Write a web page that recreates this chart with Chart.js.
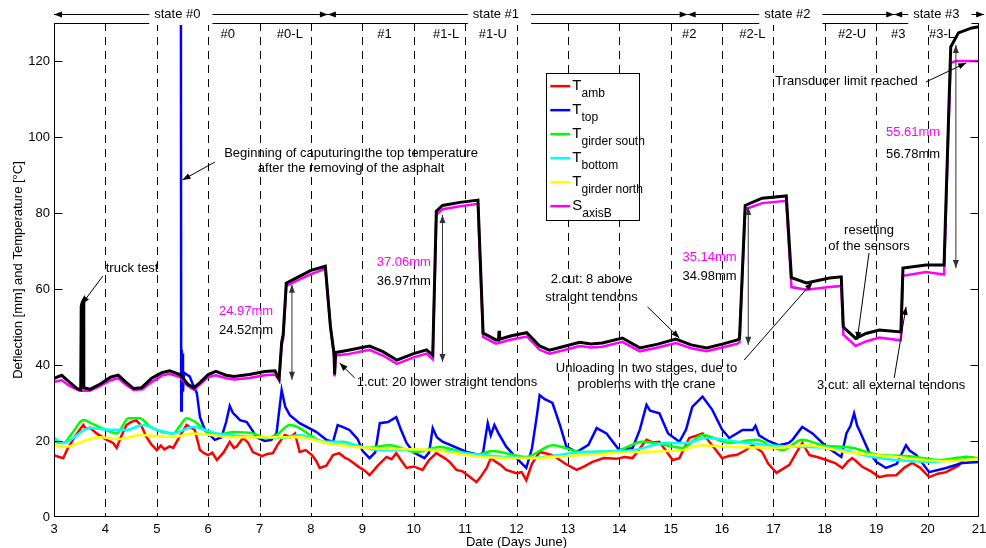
<!DOCTYPE html>
<html>
<head>
<meta charset="utf-8">
<script src="https://cdn.jsdelivr.net/npm/chart.js@4.4.0/dist/chart.umd.min.js"></script>
<style>
  html, body { margin: 0; padding: 0; background: #fff; }
  canvas { display: block; }
</style>
</head>
<body>
<canvas id="chart" width="986" height="548"></canvas>
<script>
// ---- data: [day, value] ----
const deflBlack = [[3.0,36.5],[3.15,37.3],[3.3,35.5],[3.45,33.8],[3.52,33.5],[3.53,55.5],[3.55,56.5],[3.57,57],[3.58,34],[3.7,33.6],[3.9,35],[4.1,36.8],[4.25,37.3],[4.4,35.5],[4.55,33.8],[4.7,34],[4.9,36.5],[5.1,38],[5.25,38.5],[5.45,37.5],[5.6,35],[5.72,34],[5.85,35.5],[6.0,37.5],[6.15,38.3],[6.35,37.3],[6.5,37],[6.8,37.5],[7.1,38.3],[7.3,38.5],[7.38,36.3],[7.43,46],[7.46,48],[7.52,61.5],[7.7,62.8],[8.0,64.9],[8.28,66],[8.38,50],[8.45,43],[8.46,37.5],[8.48,43.3],[8.7,43.8],[9.14,45],[9.4,43.5],[9.67,41.3],[10.0,43],[10.25,44],[10.37,42.6],[10.44,80.5],[10.56,82],[10.9,82.8],[11.25,83.4],[11.35,48.4],[11.6,46.6],[11.65,46.6],[11.66,49],[11.67,46.8],[11.9,47.7],[12.2,48.5],[12.45,45],[12.64,43.9],[12.9,44.8],[13.23,46],[13.45,45.5],[13.67,45.8],[14.06,47.1],[14.4,44.5],[14.75,45.5],[15.1,46.8],[15.4,45.3],[15.7,44.5],[16.0,45.5],[16.3,46.6],[16.34,47],[16.45,82],[16.78,83.9],[17.25,84.5],[17.35,63],[17.64,61.6],[18.09,62.9],[18.32,63.2],[18.36,50],[18.6,47],[18.8,48.3],[19.06,49.2],[19.48,48.7],[19.52,65.5],[19.97,66.3],[20.32,66.3],[20.45,123.7],[20.6,127.4],[20.86,128.7],[21.0,129]];

const sAxisB = [[3.0,35.5],[3.15,36],[3.3,34.5],[3.5,33.2],[3.7,33.2],[3.9,34.5],[4.1,36],[4.25,36.5],[4.4,34.8],[4.55,33.4],[4.72,33.6],[4.9,35.5],[5.1,37.2],[5.25,37.7],[5.45,36.8],[5.6,34.5],[5.72,33.5],[5.85,35],[6.0,36.8],[6.15,37.3],[6.35,36.5],[6.5,36.2],[6.8,36.6],[7.1,37.3],[7.3,37.5],[7.38,36],[7.43,45],[7.46,47],[7.52,60.8],[7.7,62],[8.0,63.9],[8.28,65.3],[8.38,50],[8.45,42],[8.46,37],[8.48,42.5],[8.7,42.8],[9.14,44],[9.4,42.5],[9.67,40.3],[10.0,42],[10.25,43],[10.37,41.5],[10.44,79.5],[10.56,81],[10.9,81.8],[11.25,82.4],[11.35,47.4],[11.6,45.6],[11.9,46.7],[12.2,47.5],[12.45,44],[12.64,43],[12.9,43.8],[13.23,45],[13.45,44.6],[13.67,44.8],[14.06,46.1],[14.4,43.6],[14.75,44.6],[15.1,45.8],[15.4,44.4],[15.7,43.6],[16.0,44.6],[16.3,45.6],[16.34,46],[16.45,81],[16.78,82.6],[17.25,83.2],[17.35,60.5],[17.64,59.8],[18.09,60.5],[18.32,60.8],[18.36,48],[18.6,45],[18.8,46.2],[19.06,47.2],[19.48,46.5],[19.52,63.5],[19.97,64.5],[20.32,63.8],[20.4,100],[20.45,119.5],[20.55,120],[21.0,120]];

const tAmb = [[3.0,16.3],[3.1,15.8],[3.18,15.5],[3.28,18.4],[3.45,22],[3.57,24.2],[3.62,23.2],[3.7,23.5],[3.83,22],[4.0,20.5],[4.15,19.5],[4.22,18.2],[4.3,21],[4.41,24.2],[4.5,25],[4.6,25.5],[4.7,24],[4.8,21],[4.9,19],[5.0,17.6],[5.08,18.8],[5.15,17.8],[5.25,18.6],[5.32,18.2],[5.48,22],[5.58,24.2],[5.74,22.9],[5.84,17.6],[5.92,16.8],[6.0,16.3],[6.08,16.9],[6.17,15],[6.3,17],[6.42,19.8],[6.5,18.2],[6.55,18.5],[6.68,20.8],[6.78,19.5],[6.87,17.1],[7.05,16],[7.15,16.6],[7.26,16.8],[7.35,19],[7.49,21.6],[7.6,21],[7.69,22],[7.78,17.1],[7.9,17.6],[8.02,16.3],[8.1,14.8],[8.17,12.9],[8.3,13.5],[8.43,16.3],[8.55,16.8],[8.65,15.7],[8.75,15],[8.95,13],[9.05,12.2],[9.14,11],[9.3,13.5],[9.47,15.8],[9.57,15.2],[9.66,16.8],[9.75,15],[9.86,12.9],[10.0,13.3],[10.17,12.4],[10.3,15],[10.44,16.8],[10.6,15.5],[10.7,14.5],[10.83,12.4],[10.95,12],[11.05,11],[11.22,9.2],[11.3,10.5],[11.42,12.9],[11.5,15.5],[11.6,14.5],[11.7,13.6],[11.8,12.4],[12.0,11.5],[12.1,11.8],[12.19,9.7],[12.3,14],[12.45,17.1],[12.58,16.7],[12.7,16.3],[12.95,14],[13.17,12.4],[13.3,13.2],[13.48,14.5],[13.7,15.5],[13.94,15.3],[14.1,15.8],[14.26,15.5],[14.4,18],[14.53,20.3],[14.65,19.6],[14.78,19.8],[15.04,15],[15.17,15.5],[15.36,20.8],[15.5,21.4],[15.62,22],[15.8,19],[16.0,15.5],[16.15,16.1],[16.28,16.3],[16.45,17.5],[16.59,18.9],[16.78,17.1],[16.9,14],[17.06,11.6],[17.2,12.8],[17.31,13.7],[17.45,17],[17.56,19.5],[17.7,16.3],[17.85,15.8],[18.03,15],[18.2,14.2],[18.34,12.9],[18.45,14.6],[18.53,15.5],[18.6,14.8],[18.73,13.2],[18.9,12],[19.06,10.5],[19.2,10.9],[19.39,11],[19.55,13],[19.7,14.2],[19.85,13],[20.03,10.5],[20.2,11.4],[20.36,11.8],[20.6,13.5],[20.75,15.8],[21.0,15.3]];

const tTop = [[5.47,131],[5.475,28],[5.485,44],[5.49,31],[5.5,43],[5.51,33],[5.53,38],[5.58,37.5],[5.64,37],[5.7,35],[5.78,32.6],[5.84,26.3],[5.92,23.5],[5.97,22.4],[6.13,20.3],[6.26,21],[6.35,25],[6.42,29.2],[6.48,27.4],[6.55,26.5],[6.62,25.5],[6.75,25],[6.85,23],[6.94,21],[7.1,20],[7.23,20.3],[7.33,22],[7.43,33.4],[7.5,29],[7.59,26.8],[7.78,24.7],[8.1,22.4],[8.3,20.3],[8.43,19.8],[8.52,24.2],[8.6,23.8],[8.75,22.9],[8.91,20.5],[9.0,17.5],[9.14,15.5],[9.25,17],[9.34,24.7],[9.5,25],[9.66,26.3],[9.75,23],[9.86,19.5],[10.0,17],[10.21,15.5],[10.3,17],[10.37,23.4],[10.45,21],[10.56,19.8],[11.03,17.1],[11.28,16.3],[11.35,17],[11.44,24.7],[11.5,21.5],[11.57,24.2],[11.65,22],[11.8,18.5],[12.0,15.5],[12.19,12.9],[12.3,18],[12.4,27],[12.45,32.1],[12.55,31],[12.7,30],[12.85,24],[12.97,18.5],[13.17,17.1],[13.4,19],[13.56,23.4],[13.75,22],[14.0,17.6],[14.26,18.2],[14.4,23],[14.53,29.5],[14.6,28],[14.78,27.3],[14.95,22],[15.17,19.8],[15.3,23],[15.42,29],[15.62,31.7],[15.81,28.2],[16.0,23],[16.14,20.8],[16.4,22.9],[16.6,22.9],[16.65,24],[16.72,21.5],[16.9,20],[17.1,18.9],[17.3,19.5],[17.37,20.3],[17.56,23.7],[17.76,22],[18.03,18.5],[18.32,15.8],[18.42,22],[18.5,24],[18.57,27.3],[18.63,24],[18.67,22.9],[18.86,17.1],[19.0,14.5],[19.19,12.9],[19.4,14],[19.58,18.9],[19.65,17.5],[19.78,16.3],[20.03,11.8],[20.36,12.9],[20.67,14.2],[21.0,14.5]];

const tGirderSouth = [[3.0,19.8],[3.18,19.5],[3.35,22],[3.57,25.5],[3.75,24.5],[4.0,23],[4.22,22],[4.45,26],[4.67,26],[4.85,24],[5.0,22.9],[5.32,22],[5.45,24],[5.58,26],[5.78,24.7],[5.97,22.4],[6.17,21.6],[6.48,22.4],[6.87,22],[7.13,20.8],[7.33,21.6],[7.59,24.2],[7.78,23.4],[8.04,21],[8.3,19.5],[8.6,19.8],[9.08,18.2],[9.53,18.9],[10.05,17.1],[10.5,18.4],[11.22,16.3],[11.53,17.4],[12.19,15.8],[12.7,18.9],[13.28,17.1],[13.94,17.4],[14.45,19.8],[14.91,18.9],[15.23,18.2],[15.62,21.6],[16.14,19.5],[16.66,20.3],[17.17,17.6],[17.56,20.3],[17.95,18.9],[18.53,18.2],[19.06,16.3],[19.64,16],[20.22,15],[20.75,15.8],[21.0,15.5]];

const tBottom = [[3.0,20.8],[3.18,19.5],[3.7,23.4],[4.0,23],[4.41,22.9],[4.73,24.2],[5.0,23],[5.32,22],[5.7,23.7],[6.17,22],[7.0,21],[7.45,20.8],[7.78,21.6],[8.3,19.8],[8.43,19.8],[9.4,17.6],[10.37,17.6],[11.34,16.3],[12.25,15.5],[13.28,17.1],[14.26,17.6],[14.91,19.5],[15.3,19.5],[15.7,20.8],[16.47,19.5],[17.44,18.5],[18.09,18.2],[19.06,15.5],[20.03,14.5],[21.0,15.3]];

const tGirderNorth = [[3.0,18.9],[3.18,18.4],[3.89,21],[4.28,20.5],[4.67,21.6],[5.32,21],[5.7,22],[6.48,21],[7.45,21],[7.78,21],[8.3,19.5],[9.08,18.2],[10.37,17.6],[11.34,15.8],[12.31,15.5],[13.28,16.3],[14.26,17.1],[15.23,17.6],[15.56,18.9],[16.14,18.5],[17.1,18.2],[17.64,18.9],[18.42,17.1],[19.39,15.8],[20.36,14.7],[21.0,15.3]];

// state bands along the top and phase labels
const stateNames = ['state #0', 'state #1', 'state #2', 'state #3'];
const stateStarts = [3, 8.33, 15.33, 19.35];
const stateEnds = [8.33, 15.33, 19.35, 21.1];
const stateLabelAt = [5.4, 11.6, 17.27, 20.17];
const phaseNames = ['#0', '#0-L', '#1', '#1-L', '#1-U', '#2', '#2-L', '#2-U', '#3', '#3-L'];
const phaseAt = [6.38, 7.59, 9.43, 10.63, 11.54, 15.36, 16.59, 18.53, 19.43, 20.28];

const MAGENTA = '#ff00ff';
const FONT = "'Liberation Sans', Arial, Helvetica, sans-serif";

// text notes, arrows and measured spans in data coordinates
const notes = [
    ['truck test', 4.52, 65.5, 'center', '#000'],
    ['Beginning of caputuring the top temperature', 8.78, 95.8, 'center', '#000'],
    ['after the removing of the asphalt', 8.78, 91.6, 'center', '#000'],
    ['24.97mm', 6.21, 54.2, 'left', MAGENTA],
    ['24.52mm', 6.21, 49.2, 'left', '#000'],
    ['37.06mm', 9.28, 67.1, 'left', MAGENTA],
    ['36.97mm', 9.28, 62.1, 'left', '#000'],
    ['1.cut: 20 lower straight tendons', 8.89, 35.3, 'left', '#000'],
    ['2.cut: 8 above', 13.46, 62.4, 'center', '#000'],
    ['straight tendons', 13.46, 57.9, 'center', '#000'],
    ['35.14mm', 15.23, 68.4, 'left', MAGENTA],
    ['34.98mm', 15.23, 63.2, 'left', '#000'],
    ['Unloading in two stages, due to', 14.53, 39.2, 'center', '#000'],
    ['problems with the crane', 14.53, 35.0, 'center', '#000'],
    ['resetting', 18.86, 75.3, 'center', '#000'],
    ['of the sensors', 18.86, 71.1, 'center', '#000'],
    ['3.cut: all external tendons', 19.29, 34.7, 'center', '#000'],
    ['55.61mm', 19.19, 101.3, 'left', MAGENTA],
    ['56.78mm', 19.19, 95.3, 'left', '#000'],
    ['Transducer limit reached', 18.42, 114.7, 'center', '#000']
];
const pointers = [
    [3.95, 63.4, 3.54, 56],
    [6.13, 93.4, 5.5, 88.7],
    [8.85, 36.6, 8.56, 40.5],
    [14.55, 55.3, 15.17, 47.1],
    [16.43, 41.3, 17.76, 61.8],
    [18.86, 69.5, 18.63, 46.6],
    [19.35, 36.6, 19.58, 55.3],
    [19.97, 114.5, 20.75, 119.5]
];
const spans = [[7.63, 61.1, 36.1], [10.56, 79.5, 40.8], [16.51, 81.6, 45.3], [20.55, 124.2, 65.5]];

// legend entries: [main letter, subscript, colour]
const legendItems = [
    ['T', 'amb', '#ff0000'],
    ['T', 'top', '#0000ff'],
    ['T', 'girder south', '#00ff00'],
    ['T', 'bottom', '#00ffff'],
    ['T', 'girder north', '#ffff00'],
    ['S', 'axisB', MAGENTA]
];

const pts = arr => arr.map(([x, y]) => ({ x, y }));

function arrowHead(ctx, x1, y1, x2, y2, len) {
    const a = Math.atan2(y2 - y1, x2 - x1);
    const w = len * 0.38;
    ctx.beginPath();
    ctx.moveTo(x2, y2);
    ctx.lineTo(x2 - len * Math.cos(a) + w * Math.sin(a), y2 - len * Math.sin(a) - w * Math.cos(a));
    ctx.lineTo(x2 - len * Math.cos(a) - w * Math.sin(a), y2 - len * Math.sin(a) + w * Math.cos(a));
    ctx.closePath();
    ctx.fill();
}

function arrow(ctx, x1, y1, x2, y2, len) {
    ctx.beginPath();
    ctx.moveTo(x1, y1);
    ctx.lineTo(x2, y2);
    ctx.stroke();
    arrowHead(ctx, x1, y1, x2, y2, len);
}

const overlay = {
    id: 'overlay',
    beforeDatasetsDraw(chart) {
        const { ctx, chartArea: a, scales: { x, y } } = chart;
        ctx.save();
        // dashed day lines
        ctx.strokeStyle = '#000';
        ctx.lineWidth = 1;
        ctx.setLineDash([8, 6]);
        for (let d = 4; d <= 20; d++) {
            const px = Math.round(x.getPixelForValue(d)) + 0.5;
            ctx.beginPath();
            ctx.moveTo(px, a.top);
            ctx.lineTo(px, a.bottom);
            ctx.stroke();
        }
        ctx.setLineDash([]);
        // phase labels
        ctx.fillStyle = '#000';
        ctx.font = '13px ' + FONT;
        ctx.textAlign = 'center';
        ctx.textBaseline = 'middle';
        phaseNames.forEach((n, i) => ctx.fillText(n, x.getPixelForValue(phaseAt[i]), a.top + 11));
        ctx.restore();
    },
    afterDatasetsDraw(chart) {
        const { ctx, chartArea: a, scales: { x, y } } = chart;
        ctx.save();
        ctx.strokeStyle = '#000';
        ctx.fillStyle = '#000';
        ctx.lineWidth = 1;

        // axes box
        const L = Math.round(a.left) + 0.5, R = Math.round(a.right) - 0.5;
        const T = Math.round(a.top) + 0.5, B = Math.round(a.bottom) - 0.5;
        ctx.strokeRect(L, T, R - L, B - T);

        // inner tick marks
        ctx.beginPath();
        for (let v = 20; v <= 120; v += 20) {
            const py = Math.round(y.getPixelForValue(v)) + 0.5;
            ctx.moveTo(L, py); ctx.lineTo(L + 8, py);
            ctx.moveTo(R, py); ctx.lineTo(R - 8, py);
        }
        ctx.stroke();

        // text notes
        ctx.font = '13px ' + FONT;
        ctx.textBaseline = 'middle';
        notes.forEach(([t, dx, dy, al, col]) => {
            ctx.fillStyle = col;
            ctx.textAlign = al;
            ctx.fillText(t, x.getPixelForValue(dx), y.getPixelForValue(dy));
        });

        // pointer arrows
        ctx.fillStyle = '#000';
        ctx.strokeStyle = '#000';
        pointers.forEach(([x1, y1, x2, y2]) => {
            arrow(ctx, x.getPixelForValue(x1), y.getPixelForValue(y1),
                x.getPixelForValue(x2), y.getPixelForValue(y2), 8);
        });

        // measured deflection spans
        ctx.strokeStyle = '#333';
        ctx.fillStyle = '#333';
        spans.forEach(([dx, top, bot]) => {
            const px = x.getPixelForValue(dx);
            const p1 = y.getPixelForValue(top), p2 = y.getPixelForValue(bot);
            arrow(ctx, px, (p1 + p2) / 2, px, p1, 8);
            arrow(ctx, px, (p1 + p2) / 2, px, p2, 8);
        });

        // legend
        const lx1 = x.getPixelForValue(12.58), lx2 = x.getPixelForValue(14.39);
        const ly1 = y.getPixelForValue(116.8), ly2 = y.getPixelForValue(78.2);
        ctx.fillStyle = '#fff';
        ctx.fillRect(lx1, ly1, lx2 - lx1, ly2 - ly1);
        ctx.strokeStyle = '#000';
        ctx.strokeRect(Math.round(lx1) + 0.5, Math.round(ly1) + 0.5, Math.round(lx2 - lx1), Math.round(ly2 - ly1));
        ctx.textAlign = 'left';
        ctx.textBaseline = 'alphabetic';
        legendItems.forEach(([m, sub, col], i) => {
            const ey = ly1 + 13 + i * 24;
            ctx.strokeStyle = col;
            ctx.lineWidth = 2.5;
            ctx.beginPath();
            ctx.moveTo(lx1 + 4, ey);
            ctx.lineTo(lx1 + 24, ey);
            ctx.stroke();
            ctx.fillStyle = '#000';
            ctx.font = '15px ' + FONT;
            ctx.fillText(m, lx1 + 26, ey + 4);
            const mw = ctx.measureText(m).width;
            ctx.font = '12px ' + FONT;
            ctx.fillText(sub, lx1 + 26 + mw, ey + 11);
        });
        ctx.lineWidth = 1;

        // state bands above the axes
        ctx.font = '13px ' + FONT;
        ctx.textBaseline = 'middle';
        ctx.textAlign = 'center';
        const sy = Math.round(a.top) - 8.5;
        stateNames.forEach((n, i) => {
            const cx = x.getPixelForValue(stateLabelAt[i]);
            const w = ctx.measureText(n).width;
            const gx1 = cx - w / 2 - 5, gx2 = cx + w / 2 + 12;
            ctx.fillStyle = '#fff';
            ctx.fillRect(gx1, a.top - 19, gx2 - gx1, 21);
            ctx.fillStyle = '#000';
            ctx.fillText(n, cx, sy);
            ctx.strokeStyle = '#000';
            arrow(ctx, gx1, sy, x.getPixelForValue(stateStarts[i]), sy, 8);
            arrow(ctx, gx2, sy, x.getPixelForValue(stateEnds[i]), sy, 8);
        });

        // axis titles
        ctx.fillStyle = '#000';
        ctx.font = '13px ' + FONT;
        ctx.textAlign = 'center';
        ctx.fillText('Date (Days June)', (a.left + a.right) / 2, a.bottom + 25);
        ctx.translate(18, (a.top + a.bottom) / 2);
        ctx.rotate(-Math.PI / 2);
        ctx.fillText('Deflection [mm] and Temperature [°C]', 0, 0);
        ctx.restore();
    }
};

Chart.defaults.font.family = FONT;
Chart.defaults.color = '#000';

const line = (label, data, color, width, order, smooth) => ({
    label, data: pts(data), borderColor: color, backgroundColor: color,
    borderWidth: width, pointRadius: 0, fill: false, order,
    tension: 0, cubicInterpolationMode: smooth ? 'monotone' : 'default'
});

new Chart(document.getElementById('chart'), {
    type: 'line',
    data: {
        datasets: [
            line('Deflection', deflBlack, '#000000', 3, 0, false),
            line('S axisB', sAxisB, MAGENTA, 2.5, 1, false),
            line('T girder north', tGirderNorth, '#ffff00', 2.5, 2, true),
            line('T bottom', tBottom, '#00ffff', 2.5, 3, true),
            line('T girder south', tGirderSouth, '#00ff00', 2.5, 4, true),
            line('T top', tTop, '#0000ff', 2.5, 5, false),
            line('T amb', tAmb, '#ff0000', 2.5, 6, false)
        ]
    },
    options: {
        responsive: false,
        animation: false,
        devicePixelRatio: 1,
        layout: { padding: { left: 0, right: 7, top: 23, bottom: 0 } },
        plugins: { legend: { display: false }, tooltip: { enabled: false } },
        scales: {
            x: {
                type: 'linear', min: 3, max: 21,
                grid: { display: false }, border: { display: false },
                ticks: { stepSize: 1, font: { size: 13 }, padding: -3, maxRotation: 0 },
                afterFit(scale) { scale.height = 31; }
            },
            y: {
                min: 0, max: 130,
                grid: { display: false }, border: { display: false },
                ticks: { stepSize: 20, font: { size: 13 }, padding: -4 },
                afterBuildTicks(scale) { scale.ticks = scale.ticks.filter(t => t.value % 20 === 0); },
                afterFit(scale) { scale.width = 54; }
            }
        }
    },
    plugins: [overlay]
});
</script>
</body>
</html>
